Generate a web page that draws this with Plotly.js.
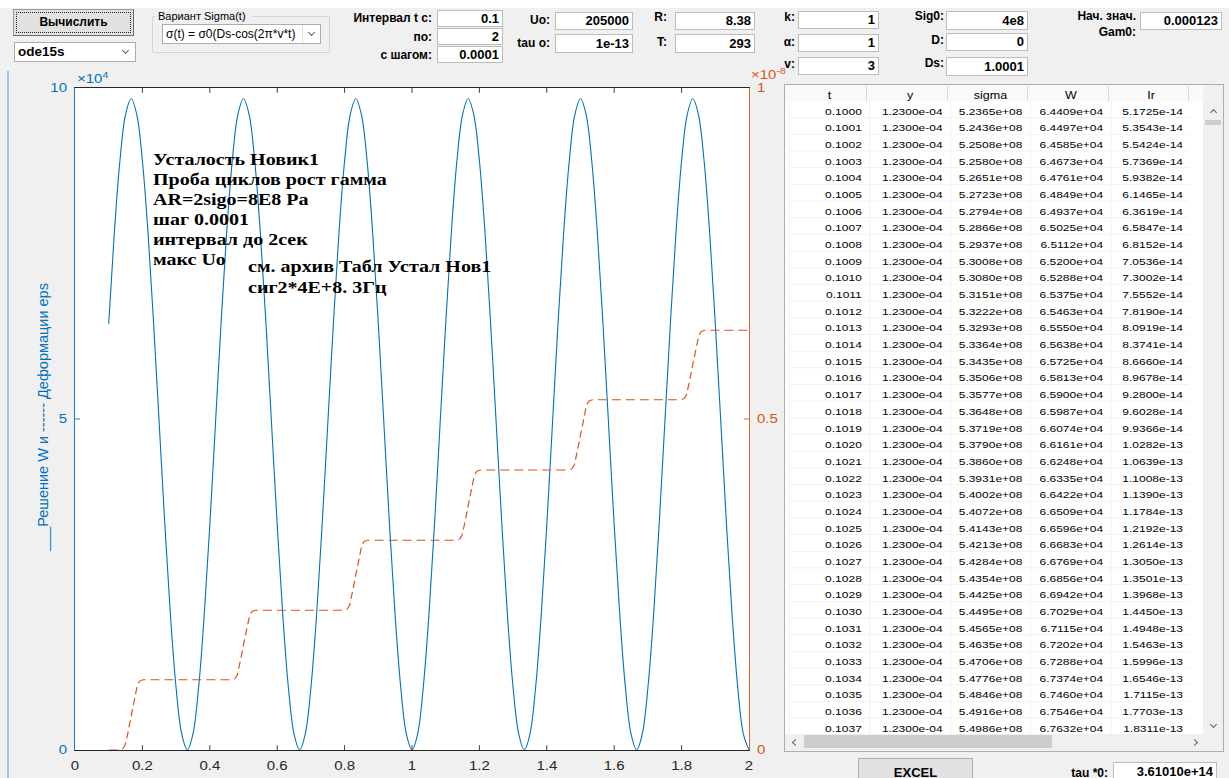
<!DOCTYPE html>
<html><head><meta charset="utf-8">
<script src="https://cdn.plot.ly/plotly-3.0.1.min.js"></script>
<style>
body{margin:0;background:#f0f0f0;width:1229px;height:778px;overflow:hidden;position:relative;font-family:"Liberation Sans",Arial,sans-serif;}
.a{position:absolute;box-sizing:border-box;}
.lbl{position:absolute;font-weight:bold;font-size:12px;color:#000;white-space:nowrap;line-height:14px;}
.chev{position:absolute;width:5px;height:5px;border-right:1.5px solid #606060;border-bottom:1.5px solid #606060;box-sizing:border-box;}
#bg,#ui{position:absolute;left:0;top:0;width:1229px;height:778px;pointer-events:none;}
#plot{position:absolute;left:0;top:0;width:1229px;height:972px;transform:scaleY(0.800412);transform-origin:0 0;}
#ttl{position:absolute;left:0;top:0;width:1229px;height:778px;}
</style></head><body>
<div id="bg"></div>
<div id="plot"></div>
<div id="ttl"></div>
<div id="ui"></div>
<script>
// ---------- chart data (W in units of 1e4, eps in units of 1e-8) ----------
const tW = [0.1,0.1167,0.1333,0.15,0.1667,0.1833,0.2,0.2167,0.2333,0.25,0.2667,0.2833,0.3,0.3167,0.3333,0.35,0.3667,0.3833,0.4,0.4167,0.4333,0.45,0.4667,0.4833,0.5,0.5167,0.5333,0.55,0.5667,0.5833,0.6,0.6167,0.6333,0.65,0.6667,0.6833,0.7,0.7167,0.7333,0.75,0.7667,0.7833,0.8,0.8167,0.8333,0.85,0.8667,0.8833,0.9,0.9167,0.9333,0.95,0.9667,0.9833,1.0,1.0167,1.0333,1.05,1.0667,1.0833,1.1,1.1167,1.1333,1.15,1.1667,1.1833,1.2,1.2167,1.2333,1.25,1.2667,1.2833,1.3,1.3167,1.3333,1.35,1.3667,1.3833,1.4,1.4167,1.4333,1.45,1.4667,1.4833,1.5,1.5167,1.5333,1.55,1.5667,1.5833,1.6,1.6167,1.6333,1.65,1.6667,1.6833,1.7,1.7167,1.7333,1.75,1.7667,1.7833,1.8,1.8167,1.8333,1.85,1.8667,1.8833,1.9,1.9167,1.9333,1.95,1.9667,1.9833,2.0];
const W_1e4 = [6.44,7.812,8.9,9.599,9.84,9.599,8.9,7.812,6.44,4.92,3.4,2.028,0.94,0.241,
 0,0.241,0.94,2.028,3.4,4.92,6.44,7.812,8.9,9.599,9.84,9.599,8.9,7.812,6.44,4.92,3.4,2.028,0.94,0.241,
 0,0.241,0.94,2.028,3.4,4.92,6.44,7.812,8.9,9.599,9.84,9.599,8.9,7.812,6.44,4.92,3.4,2.028,0.94,0.241,
 0,0.241,0.94,2.028,3.4,4.92,6.44,7.812,8.9,9.599,9.84,9.599,8.9,7.812,6.44,4.92,3.4,2.028,0.94,0.241,
 0,0.241,0.94,2.028,3.4,4.92,6.44,7.812,8.9,9.599,9.84,9.599,8.9,7.812,6.44,4.92,3.4,2.028,0.94,0.241,
 0,0.241,0.94,2.028,3.4,4.92,6.44,7.812,8.9,9.599,9.84,9.599,8.9,7.812,6.44,4.92,3.4,2.028,0.94,0.241,
 0];
const tEps = [0.1,0.132,0.142,0.149,0.155,0.161,0.167,0.173,0.179,0.185,0.192,0.202,
 0.465,0.475,0.482,0.488,0.494,0.5,0.506,0.512,0.518,0.525,0.535,
 0.798,0.808,0.815,0.821,0.827,0.833,0.839,0.845,0.851,0.858,0.868,
 1.132,1.142,1.149,1.155,1.161,1.167,1.173,1.179,1.185,1.192,1.202,
 1.465,1.475,1.482,1.488,1.494,1.5,1.506,1.512,1.518,1.525,1.535,
 1.798,1.808,1.815,1.821,1.827,1.833,1.839,1.845,1.851,1.858,1.868,2.0];
const eps_1e8 = [0,0,0.002,0.008,0.021,0.037,0.053,0.069,0.085,0.098,0.104,0.106,
 0.106,0.108,0.114,0.127,0.143,0.159,0.174,0.190,0.203,0.209,0.211,
 0.211,0.213,0.219,0.232,0.248,0.264,0.280,0.296,0.309,0.315,0.317,
 0.317,0.319,0.325,0.338,0.354,0.370,0.386,0.402,0.415,0.421,0.423,
 0.423,0.425,0.431,0.444,0.460,0.476,0.492,0.508,0.521,0.527,0.529,
 0.529,0.531,0.537,0.550,0.566,0.582,0.597,0.613,0.626,0.632,0.634,0.634];
const xTicks = [0,0.2,0.4,0.6,0.8,1,1.2,1.4,1.6,1.8,2];
const xTickText = ['0','0.2','0.4','0.6','0.8','1','1.2','1.4','1.6','1.8','2'];
const yLeftTicks = [0,5,10];
const yLeftText = ['0','5','10'];
const yRightTicks = [0,0.5,1];
const yRightText = ['0','0.5','1'];
const notes1 = ['Усталость Новик1','Проба циклов рост гамма','AR=2sigo=8E8 Pa','шаг 0.0001','интервал до 2сек','макс Uo'];
const notes2 = ['см. архив Табл Устал Нов1','сиг2*4E+8. 3Гц'];
const yTitle = '___Решение W и ------ Деформации eps';

// ---------- table data ----------
const tableHeader = ['t','y','sigma','W','Ir'];
const tCol = [0.1000,0.1001,0.1002,0.1003,0.1004,0.1005,0.1006,0.1007,0.1008,0.1009,0.1010,0.1011,0.1012,0.1013,0.1014,0.1015,0.1016,0.1017,0.1018,0.1019,0.1020,0.1021,0.1022,0.1023,0.1024,0.1025,0.1026,0.1027,0.1028,0.1029,0.1030,0.1031,0.1032,0.1033,0.1034,0.1035,0.1036,0.1037];
const yCol = [1.23e-4,1.23e-4,1.23e-4,1.23e-4,1.23e-4,1.23e-4,1.23e-4,1.23e-4,1.23e-4,1.23e-4,1.23e-4,1.23e-4,1.23e-4,1.23e-4,1.23e-4,1.23e-4,1.23e-4,1.23e-4,1.23e-4,1.23e-4,1.23e-4,1.23e-4,1.23e-4,1.23e-4,1.23e-4,1.23e-4,1.23e-4,1.23e-4,1.23e-4,1.23e-4,1.23e-4,1.23e-4,1.23e-4,1.23e-4,1.23e-4,1.23e-4,1.23e-4,1.23e-4];
const sigmaCol = [5.2365e8,5.2436e8,5.2508e8,5.2580e8,5.2651e8,5.2723e8,5.2794e8,5.2866e8,5.2937e8,5.3008e8,5.3080e8,5.3151e8,5.3222e8,5.3293e8,5.3364e8,5.3435e8,5.3506e8,5.3577e8,5.3648e8,5.3719e8,5.3790e8,5.3860e8,5.3931e8,5.4002e8,5.4072e8,5.4143e8,5.4213e8,5.4284e8,5.4354e8,5.4425e8,5.4495e8,5.4565e8,5.4635e8,5.4706e8,5.4776e8,5.4846e8,5.4916e8,5.4986e8];
const wCol = [6.4409e4,6.4497e4,6.4585e4,6.4673e4,6.4761e4,6.4849e4,6.4937e4,6.5025e4,6.5112e4,6.5200e4,6.5288e4,6.5375e4,6.5463e4,6.5550e4,6.5638e4,6.5725e4,6.5813e4,6.5900e4,6.5987e4,6.6074e4,6.6161e4,6.6248e4,6.6335e4,6.6422e4,6.6509e4,6.6596e4,6.6683e4,6.6769e4,6.6856e4,6.6942e4,6.7029e4,6.7115e4,6.7202e4,6.7288e4,6.7374e4,6.7460e4,6.7546e4,6.7632e4];
const irCol = [5.1725e-14,5.3543e-14,5.5424e-14,5.7369e-14,5.9382e-14,6.1465e-14,6.3619e-14,6.5847e-14,6.8152e-14,7.0536e-14,7.3002e-14,7.5552e-14,7.8190e-14,8.0919e-14,8.3741e-14,8.6660e-14,8.9678e-14,9.2800e-14,9.6028e-14,9.9366e-14,1.0282e-13,1.0639e-13,1.1008e-13,1.1390e-13,1.1784e-13,1.2192e-13,1.2614e-13,1.3050e-13,1.3501e-13,1.3968e-13,1.4450e-13,1.4948e-13,1.5463e-13,1.5996e-13,1.6546e-13,1.7115e-13,1.7703e-13,1.8311e-13];

// ---------- helpers ----------
const S = 778/972;
const fx = px => px/1229;
const fy = py => 1 - py/778;
function fmtE(v){const s=v.toExponential(4);let [m,e]=s.split('e');const sign=e[0]==='-'?'-':'+';let d=e.replace(/[+-]/,'');if(d.length<2)d='0'+d;return m+'e'+sign+d;}

const BLUE='#0072BD', ORANGE='#D95319', DARK='#262626';
const SANS='Liberation Sans, Arial, sans-serif', SERIF='Liberation Serif, Times New Roman, serif';

const annotations = [];
notes1.forEach((t,i)=>{
  const cy=[159,180,200,219.5,240,259.5][i];
  annotations.push({text:'<b>'+t+'</b>',x:fx(151),y:fy(cy),xref:'paper',yref:'paper',xanchor:'left',yanchor:'middle',showarrow:false,font:{family:SERIF,size:20,color:'#000'}});
});
notes2.forEach((t,i)=>{
  const cy=[267,287][i];
  annotations.push({text:'<b>'+t+'</b>',x:fx(246),y:fy(cy),xref:'paper',yref:'paper',xanchor:'left',yanchor:'middle',showarrow:false,font:{family:SERIF,size:20,color:'#000'}});
});
annotations.push({text:'×10<sup>4</sup>',x:fx(75),y:fy(77),xref:'paper',yref:'paper',xanchor:'left',yanchor:'middle',showarrow:false,font:{family:SANS,size:15,color:BLUE}});
annotations.push({text:'×10<sup>-8</sup>',x:fx(749),y:fy(74),xref:'paper',yref:'paper',xanchor:'left',yanchor:'middle',showarrow:false,font:{family:SANS,size:15,color:ORANGE}});

const traces = [
  {type:'scatter',mode:'lines',x:tW,y:W_1e4,xaxis:'x',yaxis:'y',line:{color:BLUE,width:1.1,shape:'spline',smoothing:1},hoverinfo:'skip'},
  {type:'scatter',mode:'lines',x:tEps,y:eps_1e8,xaxis:'x',yaxis:'y2',line:{color:ORANGE,width:1.2,dash:'9px,5px'},hoverinfo:'skip'},
  {type:'table',domain:{x:[fx(789),fx(1192)],y:[fy(737),fy(85)]},columnwidth:[81,81,80,81,80],
   header:{values:tableHeader,align:'center',height:16/S,font:{family:SANS,size:12.5,color:'#000'},fill:{color:'#fafafa'},line:{color:'#fafafa',width:1}},
   cells:{values:[tCol.map(v=>v.toFixed(4)),yCol.map(fmtE),sigmaCol.map(fmtE),wCol.map(fmtE),irCol.map(fmtE)],align:'right',height:16.68/S,font:{family:SANS,size:12,color:'#000'},fill:{color:'#ffffff'},line:{color:'#f2f2f2',width:1}}}
];

const layout = {
  width:1229,height:972,margin:{l:0,r:0,t:0,b:0},paper_bgcolor:'rgba(0,0,0,0)',plot_bgcolor:'#ffffff',showlegend:false,
  font:{family:SANS,size:15,color:DARK},
  xaxis:{domain:[fx(75),fx(749)],range:[0,2],tickvals:xTicks,ticktext:xTickText,ticks:'inside',ticklen:6,tickwidth:1,tickcolor:DARK,
    showline:true,linecolor:DARK,linewidth:1.25,mirror:'ticks',showgrid:false,zeroline:false,tickfont:{family:SANS,size:15,color:DARK},ticklabelstandoff:6,fixedrange:true},
  yaxis:{domain:[fy(750),fy(88)],range:[0,10],tickvals:yLeftTicks,ticktext:yLeftText,ticks:'inside',ticklen:5,tickwidth:1,tickcolor:BLUE,
    showline:true,linecolor:BLUE,linewidth:1,showgrid:false,zeroline:false,tickfont:{family:SANS,size:15,color:BLUE},ticklabelstandoff:4,fixedrange:true},
  yaxis2:{domain:[fy(750),fy(88)],overlaying:'y',side:'right',anchor:'x',range:[0,1],tickvals:yRightTicks,ticktext:yRightText,ticks:'inside',ticklen:5,tickwidth:1,tickcolor:ORANGE,
    showline:true,linecolor:ORANGE,linewidth:1,showgrid:false,zeroline:false,tickfont:{family:SANS,size:15,color:ORANGE},ticklabelstandoff:4,fixedrange:true},
  annotations:annotations
};
Plotly.newPlot('plot',traces,layout,{displayModeBar:false,staticPlot:true});

// rotated axis title (unscaled layer)
Plotly.newPlot('ttl',[],{width:1229,height:778,margin:{l:0,r:0,t:0,b:0},paper_bgcolor:'rgba(0,0,0,0)',plot_bgcolor:'rgba(0,0,0,0)',
  xaxis:{visible:false},yaxis:{visible:false},
  annotations:[{text:yTitle,x:fx(43),y:fy(418),xref:'paper',yref:'paper',xanchor:'center',yanchor:'middle',textangle:-90,showarrow:false,font:{family:SANS,size:14.5,color:BLUE}}]},
  {displayModeBar:false,staticPlot:true});

// ---------- GUI chrome ----------
function mk(parent,x,y,w,h,css,html){const d=document.createElement('div');d.className='a';d.style.cssText=`left:${x}px;top:${y}px;width:${w}px;height:${h}px;`+(css||'');if(html!==undefined)d.textContent=html;parent.appendChild(d);return d;}
const bg=document.getElementById('bg'), ui=document.getElementById('ui');
function lbl(text,right,cy,css){const d=document.createElement('div');d.className='lbl';d.style.cssText=`right:${1229-right}px;top:${cy-7}px;`+(css||'');d.textContent=text;ui.appendChild(d);}
function inp(text,x1,y1,x2,y2){mk(ui,x1,y1,x2-x1,y2-y1,`background:#fff;border:1px solid #bcbcbc;font-weight:bold;font-size:13px;text-align:right;padding-right:3px;line-height:${y2-y1-2}px;white-space:nowrap;`,text);}
function chev(cx,cy,rot){const d=document.createElement('div');d.className='chev';d.style.cssText=`left:${cx-2.5}px;top:${cy-2.5}px;transform:rotate(${rot}deg);`;ui.appendChild(d);}

// background pieces
mk(bg,0,0,1229,8,'background:#ffffff;');
mk(bg,7,71,2,707,'background:#9cc3e6;');
mk(bg,784,84,440,668,'background:#ffffff;border:1px solid #adadad;');
mk(bg,785,85,418,16,'background:#fafafa;');

// buttons / dropdowns
mk(ui,13,9,121,27,'background:#e1e1e1;border:1px solid #9a9a9a;border-right-color:#6a6a6a;border-bottom-color:#6a6a6a;font-weight:bold;font-size:12px;text-align:center;line-height:25px;','Вычислить');
mk(ui,16,12,115,21,'border:1px dotted #222;');
mk(ui,14,42,122,20,'background:#fff;border:1px solid #acacac;font-weight:bold;font-size:13.5px;line-height:18px;padding-left:3px;','ode15s');
chev(125,50,45);
mk(ui,152,16,178,37,'border:1px solid #d3d3d3;border-radius:2px;');
mk(ui,156,9,97,14,'background:#f0f0f0;font-size:11px;line-height:14px;padding-left:2px;white-space:nowrap;','Вариант Sigma(t)');
mk(ui,162,24,159,20,'background:#fff;border:1px solid #acacac;font-size:12px;line-height:18px;padding-left:3px;white-space:nowrap;overflow:hidden;','σ(t) = σ0(Ds-cos(2π*v*t)');
mk(ui,302,25,1,18,'background:#e0e0e0;');
chev(311,32,45);

// labels
lbl('Интервал t с:',432,18); lbl('по:',432,37); lbl('с шагом:',432,55);
lbl('Uo:',550,20); lbl('tau o:',550,43);
lbl('R:',667,17); lbl('T:',667,42);
lbl('k:',795,17); lbl('α:',795,42); lbl('v:',795,64);
lbl('Sig0:',944,16); lbl('D:',944,40); lbl('Ds:',944,63);
lbl('Нач. знач.',1136,16); lbl('Gam0:',1136,32);
lbl('tau *0:',1108,773);

// inputs
inp('0.1',437,10,503,27); inp('2',437,28,503,45); inp('0.0001',437,46,503,63);
inp('205000',555,12,633,30); inp('1e-13',555,34,633,53);
inp('8.38',675,12,755,30); inp('293',675,34,755,53);
inp('1',798,11,879,29); inp('1',798,34,879,52); inp('3',798,57,879,75);
inp('4e8',946,11,1028,30); inp('0',946,33,1028,51); inp('1.0001',946,57,1028,76);
inp('0.000123',1140,12,1222,30);
inp('3.61010e+14',1113,762,1217,782);
mk(ui,858,758,115,30,'background:#e1e1e1;border:1px solid #adadad;font-weight:bold;font-size:13px;text-align:center;line-height:28px;','EXCEL');

// table frame top, header separators and scrollbars
mk(ui,784,84,440,1,'background:#adadad;');
[866,947,1027,1108,1188].forEach(x=>mk(ui,x,86,1,15,'background:#d9d9d9;'));
mk(ui,785,85,4,16,'background:#fafafa;');
mk(ui,1189,85,14,16,'background:#fafafa;');
mk(ui,1189,101,14,633,'background:#ffffff;');
mk(ui,1203,85,20,16,'background:#f0f0f0;');
mk(ui,1203,101,20,633,'background:#f0f0f0;');
chev(1213,112,-135);
mk(ui,1205,120,16,5,'background:#cdcdcd;');
chev(1213,724,45);
mk(ui,785,734,418,17,'background:#f0f0f0;');
mk(ui,804,735,248,13,'background:#cdcdcd;');
chev(795,742,135);
chev(1194,742,-45);
mk(ui,1203,734,20,17,'background:#f0f0f0;');
</script>
</body></html>
